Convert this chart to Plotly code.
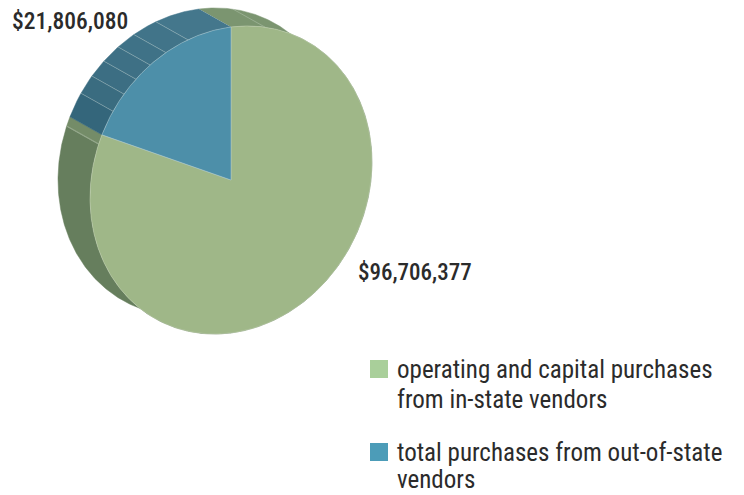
import math
import plotly.graph_objects as go

categories = ["operating and capital purchases<br>from in-state vendors",
              "total purchases from out-of-state<br>vendors"]
values = [96706377, 21806080]
face_colors = ["#9fb788", "#4d8fa9"]
swatch_colors = ["#a9cf9a", "#4c9cb8"]

# Projection of the tilted disc (page-pixel axes)
CX, CY = 231, 180
AX, AY = 141, -18
BY = -153
DX, DY = -32, -18
SEAM = "rgba(225,235,225,0.42)"

total = sum(values)
blue_sweep = 360 * values[1] / total
start = -blue_sweep  # blue slice runs from here to 0 (clockwise from top)


def pt(deg, dx=0, dy=0):
    t = math.radians(deg)
    u, v = math.sin(t), math.cos(t)
    return CX + u * AX + dx, CY + u * AY + v * BY + dy


def arc(a, b, dx=0, dy=0):
    n = max(2, int(abs(b - a) * 2))
    return [pt(a + (b - a) * i / n, dx, dy) for i in range(n + 1)]


def poly(points, color, name=None, line=None, width=0):
    return go.Scatter(x=[p[0] for p in points], y=[p[1] for p in points], mode="lines",
                      fill="toself", fillcolor=color,
                      line=dict(color=line or color, width=width or 0.5),
                      hoverinfo="skip", showlegend=False, name=name)


def wall(a, b, color):
    return poly(arc(a, b) + arc(b, a, DX, DY), color)


fig = go.Figure()

# side wall facets: (from, to, colour)
green_facets = [(0, 60, "#7b9570"), (60, 180, "#6f8866"),
                (180, 290, "#667e5d"), (290, 360 + start, "#748c68")]
for a, b, c in green_facets:
    fig.add_trace(wall(a, b, c))

blue_marks = [0, 17.8, 27.5, 35, 42.4, 49.4, 56.8, blue_sweep]
blue_cols = ["#44778c", "#417489", "#3f7287", "#3e7085", "#3c6e83", "#3a6c80", "#34667b"]
for i, c in enumerate(blue_cols):
    fig.add_trace(wall(-blue_marks[i], -blue_marks[i + 1], c))
for m in blue_marks[1:-1] + [-14, blue_sweep + 3.5]:
    p, q = pt(-m), pt(-m, DX, DY)
    fig.add_trace(go.Scatter(x=[p[0], q[0]], y=[p[1], q[1]], mode="lines",
                             line=dict(color=SEAM, width=0.7), hoverinfo="skip", showlegend=False))

# top faces
centre = [(CX, CY)]
fig.add_trace(poly(centre + arc(0, 360 + start) + centre, face_colors[0], categories[0],
                   line="#c4d3b5", width=0.5))
fig.add_trace(poly(centre + arc(start, 0) + centre, face_colors[1], categories[1],
                   line="#a9c6cf", width=0.5))

FONT = "Roboto Condensed, Liberation Sans Narrow, Liberation Sans, sans-serif"
TEXT = "#2b2b2b"

annotations = [
    dict(x=12, y=21, text=f"${values[1]:,}", font=dict(size=23.5, family=FONT, color=TEXT, weight=500)),
    dict(x=358, y=272, text=f"${values[0]:,}", font=dict(size=23, family=FONT, color=TEXT, weight=500)),
]
shapes = []
line_y = [(369, 399), (452, 479)]
for cat, ys, col in zip(categories, line_y, swatch_colors):
    for txt, y in zip(cat.split("<br>"), ys):
        annotations.append(dict(x=397, y=y, text=txt, font=dict(size=25, family=FONT, color=TEXT)))
    shapes.append(dict(type="rect", xref="x", yref="y", x0=370, x1=388, y0=ys[0] - 9, y1=ys[0] + 9,
                       fillcolor=col, line=dict(width=0)))
for a in annotations:
    a.update(xref="x", yref="y", xanchor="left", yanchor="middle", showarrow=False,
             borderpad=0, borderwidth=0)

fig.update_layout(
    width=744, height=495, margin=dict(l=0, r=0, t=0, b=0),
    paper_bgcolor="white", plot_bgcolor="white", showlegend=False,
    font=dict(family=FONT, size=24, color=TEXT),
    xaxis=dict(range=[0, 744], visible=False, fixedrange=True),
    yaxis=dict(range=[495, 0], visible=False, fixedrange=True),
    annotations=annotations, shapes=shapes,
)
fig.write_html("out.html", config=dict(displayModeBar=False),
               post_script="document.body.style.margin='0';")
